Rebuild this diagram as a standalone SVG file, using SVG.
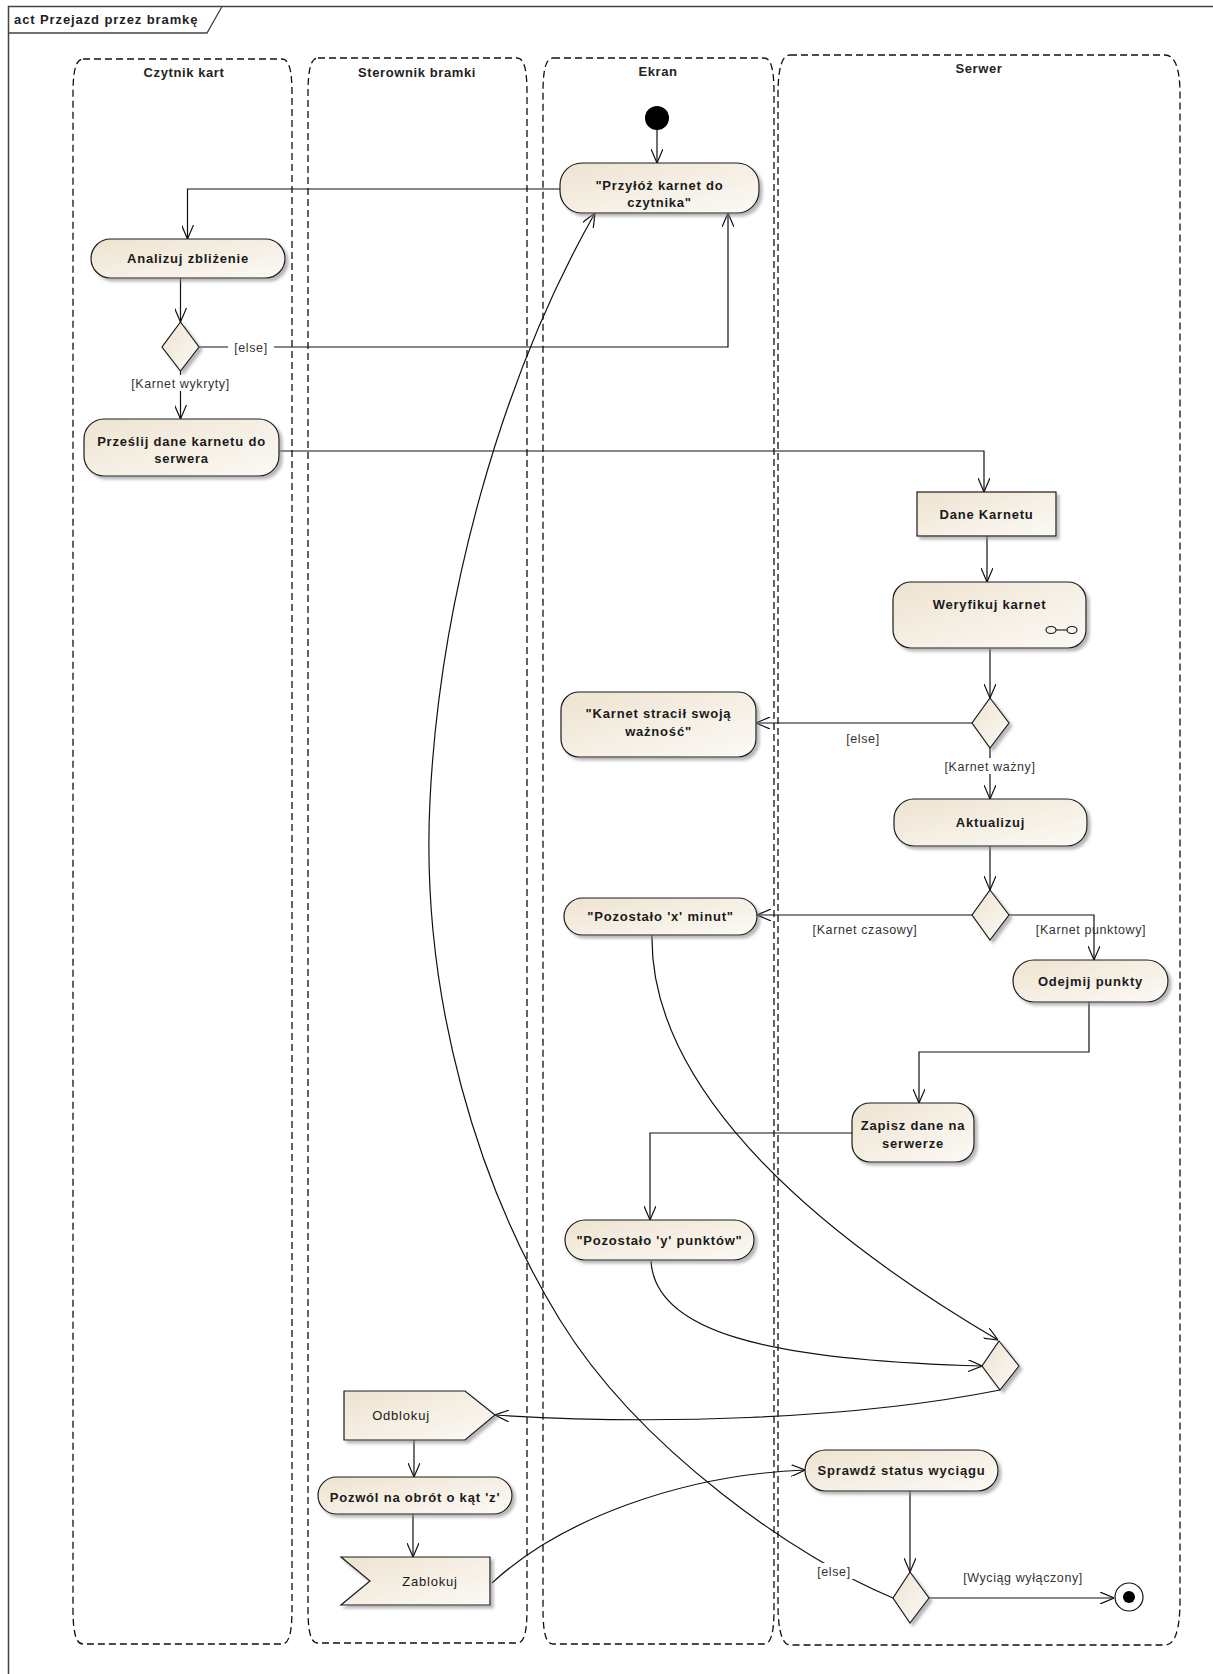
<svg xmlns="http://www.w3.org/2000/svg" width="1213" height="1674" viewBox="0 0 1213 1674">
<style>
.lane{fill:none;stroke:#111;stroke-width:1.3;stroke-dasharray:7,4}
.ltitle{font-family:"Liberation Sans",Arial,sans-serif;font-size:13px;font-weight:bold;fill:#222;text-anchor:middle;letter-spacing:0.6px}
.node{fill:url(#g);stroke:#1a1a1a;stroke-width:1.2;filter:url(#sh)}
.t{font-family:"Liberation Sans",Arial,sans-serif;font-size:13px;font-weight:bold;fill:#1a1a1a;text-anchor:middle;letter-spacing:0.8px}
.tr{font-family:"Liberation Sans",Arial,sans-serif;font-size:13px;fill:#1a1a1a;text-anchor:middle;letter-spacing:0.8px}
.g{font-family:"Liberation Sans",Arial,sans-serif;font-size:12.5px;fill:#333;text-anchor:middle;letter-spacing:0.6px}
.c{fill:none;stroke:#111;stroke-width:1.2}
.a{marker-end:url(#arr)}
.bg{fill:#fff;stroke:none}
</style>
<defs>
<linearGradient id="g" x1="0" y1="0" x2="1" y2="1">
<stop offset="0" stop-color="#EEE3D0"/>
<stop offset="1" stop-color="#FCFAF6"/>
</linearGradient>
<filter id="sh" x="-10%" y="-10%" width="125%" height="135%">
<feDropShadow dx="3" dy="3" stdDeviation="1.5" flood-color="#888" flood-opacity="0.6"/>
</filter>
<marker id="arr" viewBox="0 0 14 12" refX="14" refY="6" markerWidth="14" markerHeight="12" orient="auto" markerUnits="userSpaceOnUse">
<path d="M0,0 L14,6 L0,12" fill="none" stroke="#111" stroke-width="1.2"/>
</marker>
</defs>
<rect x="0" y="0" width="1213" height="1674" fill="#fff"/>
<g id="frame">
<rect x="8.5" y="6.5" width="1220" height="1700" fill="none" stroke="#444" stroke-width="1.5"/>
<path d="M8.5,33 H207 L222,6.5" fill="none" stroke="#444" stroke-width="1.3"/>
<text x="14" y="24" font-family="Liberation Sans, Arial, sans-serif" font-size="13" font-weight="bold" fill="#222" letter-spacing="0.9">act Przejazd przez bramkę</text>
</g>
<g id="lanes">
<g id="lane-czytnik">
<path class="lane" d="M83,59 H282 C289,59 292,70 292,94 V1609 C292,1633 289,1644 282,1644 H83 C76,1644 73,1633 73,1609 V94 C73,70 76,59 83,59 Z"/>
<text class="ltitle" x="184" y="77">Czytnik kart</text>
</g>
<g id="lane-sterownik">
<path class="lane" d="M318,58 H517 C524,58 527,69 527,93 V1609 C527,1633 524,1643 517,1643 H318 C311,1643 308,1633 308,1609 V93 C308,69 311,58 318,58 Z"/>
<text class="ltitle" x="417" y="77">Sterownik bramki</text>
</g>
<g id="lane-ekran">
<path class="lane" d="M553,58 H764 C771,58 774,69 774,93 V1609 C774,1633 771,1644 764,1644 H553 C546,1644 543,1633 543,1609 V93 C543,69 546,58 553,58 Z"/>
<text class="ltitle" x="658" y="76">Ekran</text>
</g>
<g id="lane-serwer">
<path class="lane" d="M790,55 H1165 C1175,55 1180,68 1180,95 V1600 C1180,1630 1175,1645 1165,1645 H790 C782,1645 778,1630 778,1605 V95 C778,68 782,55 790,55 Z"/>
<text class="ltitle" x="979" y="73">Serwer</text>
</g>
</g>
<g id="connectors">
<path class="c a" d="M657,130 V163"/>
<path class="c a" d="M560,189 H187.5 V239"/>
<path class="c a" d="M180.5,278 V322"/>
<path class="c a" d="M199,347 H728 V213"/>
<path class="c a" d="M180.5,371 V419"/>
<path class="c a" d="M279,451 H984 V492"/>
<path class="c a" d="M987,536 V582"/>
<path class="c a" d="M990,649 V698"/>
<path class="c a" d="M972,723 H756"/>
<path class="c a" d="M990,748 V799"/>
<path class="c a" d="M990,846 V890"/>
<path class="c a" d="M972,915 H757"/>
<path class="c a" d="M1009,915 H1094 V960"/>
<path class="c a" d="M1089,1002 V1052 H919 V1103"/>
<path class="c a" d="M852,1133 H650 V1220"/>
<path class="c a" d="M652,935 C650,1060 760,1200 998,1340"/>
<path class="c a" d="M651,1261 C655,1330 760,1360 982,1366"/>
<path class="c a" d="M1000,1390 C850,1420 650,1425 495,1415"/>
<path class="c a" d="M414,1440 V1477"/>
<path class="c a" d="M413,1514 V1557"/>
<path class="c a" d="M492,1583 C560,1520 680,1475 805,1470"/>
<path class="c a" d="M910,1491 V1572"/>
<path class="c a" d="M929,1598 H1114"/>
<path class="c a" d="M893,1598 C800,1560 640,1450 560,1320 S420,1000 430,800 S500,380 595,213"/>
<rect class="bg" x="228" y="339" width="46" height="16"/>
<text class="g" x="251" y="351.5">[else]</text>
<rect class="bg" x="126" y="375" width="109" height="16"/>
<text class="g" x="180.5" y="387.5">[Karnet wykryty]</text>
<text class="g" x="863" y="742.5">[else]</text>
<rect class="bg" x="942" y="758" width="96" height="16"/>
<text class="g" x="990" y="770.5">[Karnet ważny]</text>
<text class="g" x="865" y="933.5">[Karnet czasowy]</text>
<text class="g" x="1091" y="933.5">[Karnet punktowy]</text>
<rect class="bg" x="813" y="1563" width="42" height="16"/>
<text class="g" x="834" y="1575.5">[else]</text>
<text class="g" x="1023" y="1581.5">[Wyciąg wyłączony]</text>
</g>
<g id="n-start"><circle cx="657" cy="118" r="12" fill="#000"/></g>
<g id="n-przyloz">
<rect class="node" x="560" y="163" width="199" height="50" rx="22" ry="22"/>
<text class="t" x="659.5" y="189.5">"Przyłóż karnet do</text>
<text class="t" x="659.5" y="206.5">czytnika"</text>
</g>
<g id="n-analizuj">
<rect class="node" x="91" y="239" width="194" height="39" rx="19.5" ry="19.5"/>
<text class="t" x="188" y="263">Analizuj zbliżenie</text>
</g>
<g id="d-wykryty"><path class="node" d="M180.5,322 L199,347 L180.5,371 L162,347 Z"/></g>
<g id="n-przeslij">
<rect class="node" x="84" y="419" width="195" height="57" rx="20" ry="20"/>
<text class="t" x="181.5" y="445.5">Prześlij dane karnetu do</text>
<text class="t" x="181.5" y="462.5">serwera</text>
</g>
<g id="n-dane">
<rect class="node" x="917" y="492" width="139" height="44"/>
<text class="t" x="986.5" y="518.5">Dane Karnetu</text>
</g>
<g id="n-weryfikuj">
<rect class="node" x="893" y="582" width="193" height="66" rx="18" ry="18"/>
<text class="t" x="989.5" y="608.5">Weryfikuj karnet</text>
<ellipse cx="1051" cy="630" rx="5" ry="3.5" fill="none" stroke="#111" stroke-width="1.1"/>
<ellipse cx="1072" cy="630" rx="5" ry="3.5" fill="none" stroke="#111" stroke-width="1.1"/>
<path d="M1056,630 H1067" stroke="#111" stroke-width="1.1"/>
</g>
<g id="d-wazny"><path class="node" d="M990,698 L1009,723 L990,748 L972,723 Z"/></g>
<g id="n-stracil">
<rect class="node" x="561" y="692" width="195" height="65" rx="18" ry="18"/>
<text class="t" x="658.5" y="717.5">"Karnet stracił swoją</text>
<text class="t" x="658.5" y="735.5">ważność"</text>
</g>
<g id="n-aktualizuj">
<rect class="node" x="894" y="799" width="193" height="47" rx="20" ry="20"/>
<text class="t" x="990.5" y="827">Aktualizuj</text>
</g>
<g id="d-typ"><path class="node" d="M990,890 L1009,915 L990,940 L972,915 Z"/></g>
<g id="n-pozx">
<rect class="node" x="564" y="898" width="193" height="37" rx="18.5" ry="18.5"/>
<text class="t" x="660.5" y="921">"Pozostało 'x' minut"</text>
</g>
<g id="n-odejmij">
<rect class="node" x="1013" y="960" width="155" height="42" rx="21" ry="21"/>
<text class="t" x="1090.5" y="985.5">Odejmij punkty</text>
</g>
<g id="n-zapisz">
<rect class="node" x="852" y="1103" width="122" height="59" rx="18" ry="18"/>
<text class="t" x="913" y="1129.5">Zapisz dane na</text>
<text class="t" x="913" y="1147.5">serwerze</text>
</g>
<g id="n-pozy">
<rect class="node" x="565" y="1220" width="189" height="40" rx="20" ry="20"/>
<text class="t" x="659.5" y="1244.5">"Pozostało 'y' punktów"</text>
</g>
<g id="d-merge"><path class="node" d="M999,1341 L1019,1366 L1000,1390 L982,1366 Z"/></g>
<g id="n-odblokuj">
<path class="node" d="M344,1391 H465 L495,1415 L465,1440 H344 Z"/>
<text class="tr" x="401" y="1419.5">Odblokuj</text>
</g>
<g id="n-pozwol">
<rect class="node" x="318" y="1477" width="194" height="37" rx="18.5" ry="18.5"/>
<text class="t" x="415" y="1501.5">Pozwól na obrót o kąt 'z'</text>
</g>
<g id="n-zablokuj">
<path class="node" d="M341,1557 H490 V1605 H341 L370,1581 Z"/>
<text class="tr" x="430" y="1585.5">Zablokuj</text>
</g>
<g id="n-sprawdz">
<rect class="node" x="805" y="1450" width="193" height="41" rx="20.5" ry="20.5"/>
<text class="t" x="901.5" y="1475">Sprawdź status wyciągu</text>
</g>
<g id="d-status"><path class="node" d="M910,1572 L929,1598 L910,1623 L893,1598 Z"/></g>
<g id="n-end">
<circle cx="1129" cy="1597" r="14" fill="#fff" stroke="#111" stroke-width="1.2"/>
<circle cx="1129" cy="1597" r="6" fill="#000"/>
</g>
</svg>
